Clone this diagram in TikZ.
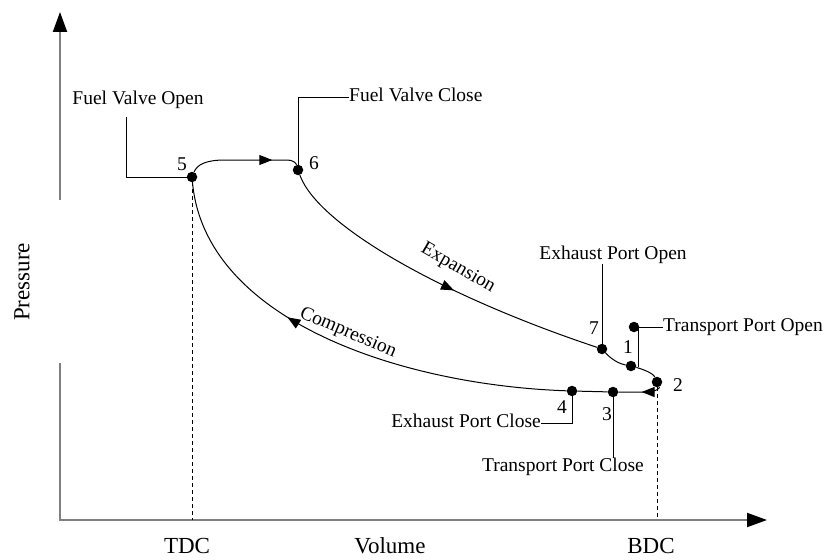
\documentclass[tikz,border=0pt]{standalone}
\usepackage{fontspec}
\setmainfont{Liberation Serif}
\usetikzlibrary{arrows.meta,decorations.markings}
\begin{document}
\begin{tikzpicture}[x=1pt,y=-1pt,
  lbl/.style={font=\fontsize{19.5}{22}\selectfont, inner sep=0pt, text height=13pt, text depth=4pt},
  axlbl/.style={font=\fontsize{23}{26}\selectfont, inner sep=0pt},
  dot/.style={circle,fill=black,inner sep=0pt,minimum size=10.5pt},
  axis/.style={draw=black!50,line width=2pt},
  curve/.style={line width=1pt},
  leader/.style={line width=0.9pt},
  dashline/.style={line width=0.8pt,dash pattern=on 4pt off 3pt},
  arrowat/.style={postaction={decorate},decoration={markings,mark=at position #1 with {\arrow{Triangle[length=13pt,width=10pt]}}}},
  axtip/.style={-{Triangle[length=20pt,width=14pt,color=black]}}
]
\useasboundingbox (0,0) rectangle (826,559);

% axes
\coordinate (O) at (60,520);
\coordinate (xend) at (767,520);
\coordinate (ytop) at (60,12);
\coordinate (ygapT) at (60,200);
\coordinate (ygapB) at (60,363);
\draw[axis,axtip] (ygapB) -- (O) -- (xend);
\draw[axis,axtip] (ygapT) -- (ytop);

% state points
\node[dot] (p5) at (192,177) {};
\node[dot] (p6) at (298,170) {};
\node[dot] (p7) at (602,349) {};
\node[dot] (p1) at (631,366) {};
\node[dot] (p2) at (657,382) {};
\node[dot] (p3) at (613,392) {};
\node[dot] (p4) at (572,391) {};
\node[dot] (pT) at (634,327) {};

% number labels
\node[lbl] (n5) at (182,166) {5};
\node[lbl] (n6) at (314,165) {6};
\node[lbl] (n7) at (594,330) {7};
\node[lbl] (n1) at (628,349) {1};
\node[lbl] (n2) at (678,387) {2};
\node[lbl] (n3) at (607,416) {3};
\node[lbl] (n4) at (562,409) {4};

% cycle curves
\draw[curve,arrowat=0.76] (p5) .. controls (197,165) and (205,160) .. (225,160) -- (287,160) .. controls (293,160) and (296,163) .. (p6);
\draw[curve,arrowat=0.56] (p6) .. controls (318,225) and (440,295) .. (p7);
\draw[curve] (p7) .. controls (612,360) and (620,364) .. (p1) .. controls (642,369) and (653,373) .. (p2);
\draw[curve,arrowat=0.27] (p2) .. controls (660,388) and (656,392) .. (646,392) -- (p3) -- (p4);
\draw[curve,arrowat=0.63] (p4) .. controls (400,385) and (205,320) .. (p5);

% process labels
\node[lbl,rotate=-30] (exp) at (458,268) {Expansion};
\node[lbl,rotate=-23] (comp) at (348,333) {Compression};

% event labels and leaders
\node[lbl] (fvo) at (138,100) {Fuel Valve Open};
\node[lbl,anchor=west] (fvc) at (349,97) {Fuel Valve Close};
\node[lbl] (epo) at (613,255) {Exhaust Port Open};
\node[lbl,anchor=west] (tpo) at (663,327) {Transport Port Open};
\node[lbl,anchor=east] (epc) at (541,423) {Exhaust Port Close};
\node[lbl] (tpc) at (563,467) {Transport Port Close};

\coordinate (fvoleg) at (126,117);
\draw[leader] (fvoleg) |- (p5);
\draw[leader] (p6) |- (fvc.west);
\draw[leader] (p7) -- (p7 |- epo.south);
\draw[leader] (pT) -- (tpo.west);
\coordinate (tpoA) at (638,327);
\coordinate (tpoB) at (638,367);
\draw[leader] (tpoA) -- (tpoB);
\draw[leader] (p4) |- (epc.east);
\draw[leader] (p3) -- (p3 |- tpc.north);

% dashed TDC/BDC lines
\draw[dashline] (p5) -- (p5 |- O);
\draw[dashline] (p2) -- (p2 |- O);

% axis labels
\node[axlbl] (tdc) at (187,546) {TDC};
\node[axlbl] (vol) at (390,546) {Volume};
\node[axlbl] (bdc) at (651,546) {BDC};
\node[axlbl,rotate=90] (pr) at (22,282) {Pressure};
\end{tikzpicture}
\end{document}
